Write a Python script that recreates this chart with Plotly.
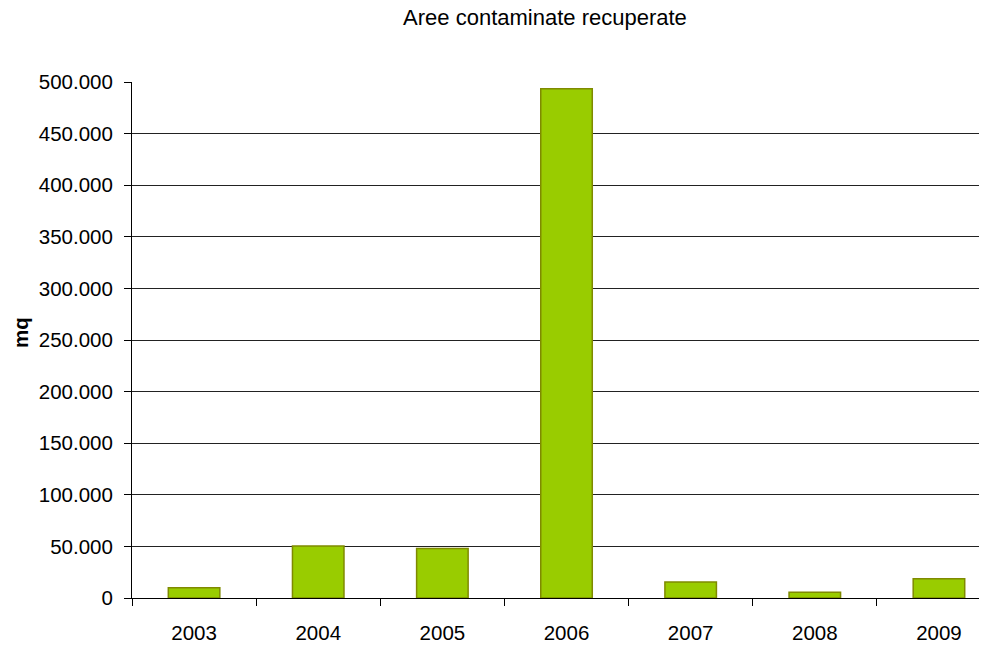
import plotly.graph_objects as go

years = ["2003", "2004", "2005", "2006", "2007", "2008", "2009"]
area_mq = [10000, 50500, 48000, 493500, 15500, 5500, 18700]
y_ticks = [0, 50000, 100000, 150000, 200000, 250000, 300000, 350000, 400000, 450000, 500000]

fig = go.Figure()
fig.add_trace(go.Bar(
    x=years, y=area_mq,
    marker=dict(color="#99CC00", line=dict(color="#7F8A00", width=1.5)),
))

fig.update_layout(
    width=979, height=638,
    margin=dict(l=124, r=0, t=74, b=48),
    paper_bgcolor="white", plot_bgcolor="white",
    separators=",.",
    bargap=0.585,
    showlegend=False,
    font=dict(family="Liberation Sans, Arial, sans-serif", size=20.5, color="black"),
    title=dict(text="Aree contaminate recuperate", x=0.5485, xanchor="center",
               y=0.986, yanchor="middle", font=dict(size=22)),
    annotations=[dict(
        text="<b>mq</b>", textangle=-90, showarrow=False,
        xref="paper", yref="paper", x=-111 / 855, y=0.5136,
        xanchor="center", yanchor="middle", font=dict(size=20.5),
    )],
)
fig.update_xaxes(
    type="category", range=[-0.5, 6.387],
    showline=True, linecolor="black", linewidth=1,
    ticks="outside", ticklen=7, tickcolor="black", tickson="boundaries",
    showgrid=False, ticklabelstandoff=16,
)
fig.update_yaxes(
    range=[0, 500000], tickvals=y_ticks, tickformat=",d",
    showline=True, linecolor="black", linewidth=1,
    ticks="outside", ticklen=7, tickcolor="black",
    showgrid=True, gridcolor="#222222", gridwidth=1,
    zeroline=False, ticklabelstandoff=7,
)

fig.write_html("out.html")
